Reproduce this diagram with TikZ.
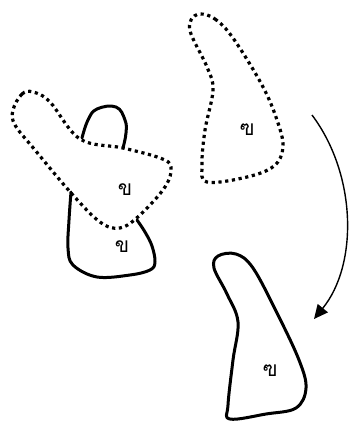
\documentclass[tikz,border=0pt]{standalone}
\usepackage{fontspec}
\newfontfamily\thaifont[Script=Thai]{Loma}
\usetikzlibrary{arrows.meta}
\begin{document}
\begin{tikzpicture}[x=1pt,y=-1pt,
  solidshape/.style={line width=3pt, line join=round, line cap=round},
  dotshape/.style={line width=3.2pt, dash pattern=on 3.2pt off 3.6pt},
  lbl/.style={font=\thaifont\fontsize{21}{21}\selectfont, inner sep=0pt},
  arr/.style={line width=1.4pt, -{Triangle[length=14pt,width=13pt]}}]
\useasboundingbox (0,0) rectangle (350,421);
% solid shape 1 (two visible pieces)
\draw[solidshape] plot[smooth, tension=0.7] coordinates {(82,138) (88,120) (97,109) (116,107) (125,120) (126,133) (123,148)};
\draw[solidshape] plot[smooth, tension=0.6] coordinates {(71,192) (69,220) (68,248) (73,265) (97,277) (130,275) (150,270) (155,262) (152,246) (145,232) (137,220)};
% dotted shape 1
\draw[dotshape] plot[smooth cycle, tension=0.6] coordinates {(13,110) (22,94) (33,92) (50,102) (80,139) (123,148) (160,158) (171,167) (165,187) (140,215) (120,228) (100,222) (72,194) (35,150) (15,125)};
% dotted shape 2
\draw[dotshape] plot[smooth cycle, tension=0.6] coordinates {(200,14) (215,19) (233,38) (262,85) (277,120) (283,147) (274,166) (247,177) (207,182) (202,165) (205,130) (213,90) (207,67) (191,34) (191,20)};
% solid shape 2
\draw[solidshape] plot[smooth cycle, tension=0.6] coordinates {(218,256) (236,254) (253,268) (277,313) (299,360) (306,388) (296,408) (266,414) (230,419) (228,405) (233,360) (238,322) (227,294) (214,268)};
% labels
\node[lbl] (k1) at (125,190) {ข};
\node[lbl] (k2) at (122,247) {ข};
\node[lbl] (kh1) at (247,130) {ฃ};
\node[lbl] (kh2) at (270,371) {ฃ};
% arrow
\coordinate (a0) at (312,115);
\coordinate (a1) at (314,319);
\draw[arr] (a0) .. controls (357,175) and (358,265) .. (a1);
\end{tikzpicture}
\end{document}
